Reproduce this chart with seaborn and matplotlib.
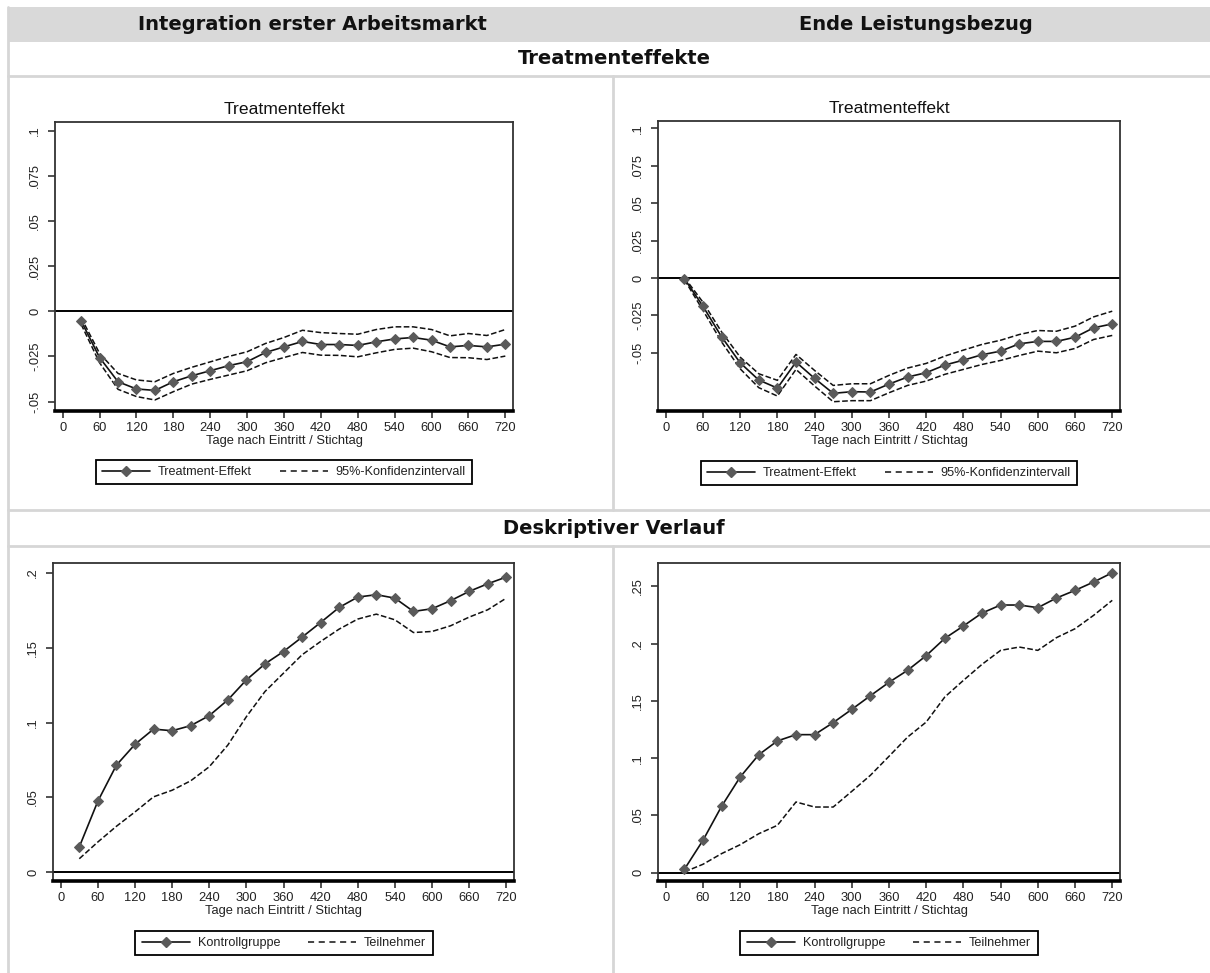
import matplotlib
matplotlib.use("Agg")
import matplotlib.pyplot as plt
import matplotlib.font_manager as fm
from matplotlib.patches import Rectangle
from matplotlib.lines import Line2D
import seaborn as sns
import pandas as pd

# ---------------- data ----------------
days = [30, 60, 90, 120, 150, 180, 210, 240, 270, 300, 330, 360,
        390, 420, 450, 480, 510, 540, 570, 600, 630, 660, 690, 720]

# Integration erster Arbeitsmarkt - Treatmenteffekt
te_int = [-0.0053, -0.0256, -0.0390, -0.0430, -0.0438, -0.0390, -0.0357, -0.0329,
          -0.0301, -0.0279, -0.0228, -0.0197, -0.0167, -0.0184, -0.0184, -0.0189,
          -0.0169, -0.0153, -0.0145, -0.0160, -0.0197, -0.0189, -0.0197, -0.0182]
ci_hi_int = [-0.0035, -0.0233, -0.0344, -0.0380, -0.0390, -0.0344, -0.0310, -0.0280,
             -0.0250, -0.0224, -0.0178, -0.0145, -0.0105, -0.0118, -0.0123, -0.0127,
             -0.0101, -0.0086, -0.0086, -0.0101, -0.0136, -0.0123, -0.0134, -0.0101]
ci_lo_int = [-0.0072, -0.0285, -0.0432, -0.0472, -0.0491, -0.0445, -0.0403, -0.0377,
             -0.0353, -0.0329, -0.0285, -0.0256, -0.0228, -0.0243, -0.0244, -0.0252,
             -0.0230, -0.0211, -0.0204, -0.0224, -0.0256, -0.0257, -0.0267, -0.0248]

# Ende Leistungsbezug - Treatmenteffekt
te_end = [-0.0004, -0.0189, -0.0393, -0.0567, -0.0682, -0.0736, -0.0562, -0.0671,
          -0.0771, -0.0760, -0.0762, -0.0709, -0.0662, -0.0633, -0.0582, -0.0549,
          -0.0513, -0.0489, -0.0440, -0.0424, -0.0424, -0.0396, -0.0333, -0.0307]
ci_hi_end = [0.0004, -0.0162, -0.0360, -0.0529, -0.0640, -0.0684, -0.0511, -0.0618,
             -0.0718, -0.0707, -0.0707, -0.0651, -0.0602, -0.0571, -0.0522, -0.0482,
             -0.0444, -0.0416, -0.0378, -0.0351, -0.0356, -0.0322, -0.0260, -0.0222]
ci_lo_end = [-0.0011, -0.0216, -0.0427, -0.0607, -0.0733, -0.0789, -0.0611, -0.0722,
             -0.0827, -0.0820, -0.0820, -0.0767, -0.0718, -0.0689, -0.0644, -0.0611,
             -0.0578, -0.0551, -0.0518, -0.0489, -0.0500, -0.0471, -0.0411, -0.0384]

# Deskriptiver Verlauf - Integration erster Arbeitsmarkt
kg_int = [0.0168, 0.0474, 0.0715, 0.0854, 0.0956, 0.0945, 0.0979, 0.1046,
          0.1151, 0.1285, 0.1392, 0.1475, 0.1571, 0.1669, 0.1770, 0.1839,
          0.1855, 0.1832, 0.1743, 0.1761, 0.1815, 0.1877, 0.1928, 0.1973]
tn_int = [0.0089, 0.0201, 0.0306, 0.0402, 0.0503, 0.0547, 0.0610, 0.0704,
          0.0849, 0.1039, 0.1207, 0.1330, 0.1453, 0.1542, 0.1625, 0.1692,
          0.1725, 0.1687, 0.1602, 0.1609, 0.1647, 0.1705, 0.1754, 0.1832]

# Deskriptiver Verlauf - Ende Leistungsbezug
kg_end = [0.0029, 0.0282, 0.0579, 0.0835, 0.1030, 0.1150, 0.1205, 0.1205,
          0.1310, 0.1426, 0.1545, 0.1662, 0.1767, 0.1895, 0.2046, 0.2154,
          0.2267, 0.2337, 0.2337, 0.2314, 0.2398, 0.2465, 0.2538, 0.2619]
tn_end = [0.0006, 0.0073, 0.0166, 0.0244, 0.0340, 0.0413, 0.0617, 0.0573,
          0.0573, 0.0710, 0.0850, 0.1016, 0.1184, 0.1315, 0.1534, 0.1679,
          0.1819, 0.1941, 0.1970, 0.1941, 0.2052, 0.2130, 0.2247, 0.2378]

x_ticks = [0, 60, 120, 180, 240, 300, 360, 420, 480, 540, 600, 660, 720]
yt_te = [-0.05, -0.025, 0, 0.025, 0.05, 0.075, 0.1]
yl_te = ["-.05", "-.025", "0", ".025", ".05", ".075", ".1"]
yt_int = [0, 0.05, 0.1, 0.15, 0.2]
yl_int = ["0", ".05", ".1", ".15", ".2"]
yt_end = [0, 0.05, 0.1, 0.15, 0.2, 0.25]
yl_end = ["0", ".05", ".1", ".15", ".2", ".25"]

col_headers = ["Integration erster Arbeitsmarkt", "Ende Leistungsbezug"]
row_headers = ["Treatmenteffekte", "Deskriptiver Verlauf"]
panel_title = "Treatmenteffekt"
x_label = "Tage nach Eintritt / Stichtag"
lab_te, lab_ci = "Treatment-Effekt", "95%-Konfidenzintervall"
lab_kg, lab_tn = "Kontrollgruppe", "Teilnehmer"

# ---------------- style ----------------
sns.set_theme(style="white")
names = {f.name for f in fm.fontManager.ttflist}
if "Liberation Sans Narrow" in names:
    FONT, S = "Liberation Sans Narrow", 1.0
else:
    FONT, S = "Liberation Sans", 0.84
plt.rcParams["font.family"] = [FONT, "DejaVu Sans"]

W, H = 1210, 973
fig = plt.figure(figsize=(W / 100, H / 100), dpi=100)
fig.patch.set_facecolor("white")

def fx(px):
    return px / W

def fy(py):
    return 1 - py / H

GRID = "#d6d6d6"
# header band
fig.patches.append(Rectangle((fx(8), fy(42)), fx(1210) - fx(8), fy(7) - fy(42),
                             transform=fig.transFigure, facecolor="#d9d9d9",
                             edgecolor="none", zorder=0))
def hline(y, x0=8, x1=1210):
    fig.add_artist(Line2D([fx(x0), fx(x1)], [fy(y), fy(y)], color=GRID, lw=2,
                          transform=fig.transFigure))
def vline(x, y0, y1):
    fig.add_artist(Line2D([fx(x), fx(x)], [fy(y0), fy(y1)], color=GRID, lw=2,
                          transform=fig.transFigure))
hline(76); hline(510); hline(546)
vline(8, 7, 973)
vline(613, 76, 510); vline(613, 546, 973)

hdr_font = ["DejaVu Sans"]
HS = 14
fig.text(fx(312), fy(25), col_headers[0], ha="center", va="center",
         fontsize=HS, fontweight="bold", family=hdr_font, color="#111111")
fig.text(fx(916), fy(25), col_headers[1], ha="center", va="center",
         fontsize=HS, fontweight="bold", family=hdr_font, color="#111111")
fig.text(fx(614), fy(58), row_headers[0], ha="center", va="center",
         fontsize=HS, fontweight="bold", family=hdr_font, color="#111111")
fig.text(fx(614), fy(529), row_headers[1], ha="center", va="center",
         fontsize=HS, fontweight="bold", family=hdr_font, color="#111111")

LINE = "#111111"
MARK = "#5a5a5a"
TXT = "#222222"

def make_ax(l, t, r, b):
    return fig.add_axes([fx(l), fy(b), fx(r) - fx(l), fy(t) - fy(b)])

def style_ax(ax, ylim, yt, yl, title=None):
    ax.set_xlim(-12.5, 732.5)
    ax.set_ylim(*ylim)
    ax.set_xticks(x_ticks)
    ax.set_xticklabels([str(v) for v in x_ticks])
    ax.set_yticks(yt)
    ax.set_yticklabels(yl, rotation=90, va="center")
    ax.tick_params(axis="both", direction="out", length=5, width=1.1,
                   colors=TXT, labelsize=11 * S, left=True, bottom=True)
    ax.tick_params(axis="y", pad=5)
    ax.tick_params(axis="x", pad=3)
    for s in ["left", "top", "right"]:
        ax.spines[s].set_color("#333333")
        ax.spines[s].set_linewidth(1.3)
    ax.spines["bottom"].set_color("black")
    ax.spines["bottom"].set_linewidth(2.6)
    ax.axhline(0, color="black", lw=1.4, zorder=1)
    ax.set_xlabel(x_label, fontsize=11 * S, color=TXT, labelpad=0.5)
    ax.set_ylabel("")
    if title:
        ax.set_title(title, fontsize=15 * S, color="#111111", pad=6)

def solid_series(ax, y, label):
    df = pd.DataFrame({"x": days, "y": y})
    sns.lineplot(data=df, x="x", y="y", ax=ax, color=LINE, lw=1.2,
                 marker="D", markersize=5.2, markerfacecolor=MARK,
                 markeredgecolor=MARK, label=label, zorder=3)

def dashed_series(ax, y, label=None):
    df = pd.DataFrame({"x": days, "y": y})
    sns.lineplot(data=df, x="x", y="y", ax=ax, color=LINE, lw=1.1,
                 dashes=(4, 3), linestyle="--", label=label, zorder=2)

def add_legend(ax, cx, cy):
    handles = [Line2D([], [], color=LINE, lw=1.2, marker="D", markersize=5,
                      markerfacecolor=MARK, markeredgecolor=MARK),
               Line2D([], [], color=LINE, lw=1.1, linestyle=(0, (4, 3)))]
    labels = [t.get_text() for t in ax.get_legend().get_texts()]
    ax.get_legend().remove()
    leg = fig.legend(handles, labels, ncol=2, loc="center",
                     bbox_to_anchor=(fx(cx), fy(cy)),
                     bbox_transform=fig.transFigure, frameon=True,
                     fancybox=False, shadow=False, handlelength=3.8,
                     columnspacing=2.2, handletextpad=0.65, borderpad=0.5,
                     fontsize=10.8 * S, numpoints=1)
    fr = leg.get_frame()
    fr.set_edgecolor("black")
    fr.set_linewidth(1.3)
    fr.set_facecolor("white")
    fr.set_alpha(1)
    for t in leg.get_texts():
        t.set_color(TXT)

# ---- top left
ax1 = make_ax(55, 122, 513, 411)
dashed_series(ax1, ci_hi_int, lab_ci)
dashed_series(ax1, ci_lo_int)
solid_series(ax1, te_int, lab_te)
style_ax(ax1, (-0.0552, 0.1048), yt_te, yl_te, panel_title)
h, l = ax1.get_legend_handles_labels()
ax1.legend([h[l.index(lab_te)], h[l.index(lab_ci)]], [lab_te, lab_ci])
add_legend(ax1, 284, 472)

# ---- top right
ax2 = make_ax(658, 121, 1120, 411)
dashed_series(ax2, ci_hi_end, lab_ci)
dashed_series(ax2, ci_lo_end)
solid_series(ax2, te_end, lab_te)
style_ax(ax2, (-0.0889, 0.1049), yt_te, yl_te, panel_title)
h, l = ax2.get_legend_handles_labels()
ax2.legend([h[l.index(lab_te)], h[l.index(lab_ci)]], [lab_te, lab_ci])
add_legend(ax2, 889, 473)

# ---- bottom left
ax3 = make_ax(53, 563, 514, 881)
dashed_series(ax3, tn_int, lab_tn)
solid_series(ax3, kg_int, lab_kg)
style_ax(ax3, (-0.0060, 0.2067), yt_int, yl_int)
h, l = ax3.get_legend_handles_labels()
ax3.legend([h[l.index(lab_kg)], h[l.index(lab_tn)]], [lab_kg, lab_tn])
add_legend(ax3, 284, 943)

# ---- bottom right
ax4 = make_ax(658, 563, 1120, 881)
dashed_series(ax4, tn_end, lab_tn)
solid_series(ax4, kg_end, lab_kg)
style_ax(ax4, (-0.0073, 0.2704), yt_end, yl_end)
h, l = ax4.get_legend_handles_labels()
ax4.legend([h[l.index(lab_kg)], h[l.index(lab_tn)]], [lab_kg, lab_tn])
add_legend(ax4, 889, 943)

fig.savefig("out.png", dpi=100, facecolor="white")
